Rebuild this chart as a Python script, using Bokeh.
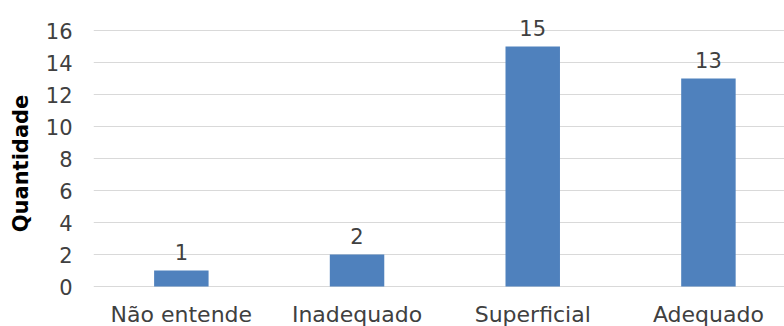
from bokeh.embed import file_html
from bokeh.models import ColumnDataSource, FixedTicker, Range1d
from bokeh.plotting import figure
from bokeh.resources import INLINE
from bokeh.core.properties import value

# Data
categories = ["Não entende", "Inadequado", "Superficial", "Adequado"]
counts = [1, 2, 15, 13]
y_ticks = [0, 2, 4, 6, 8, 10, 12, 14, 16]

FONT = "DejaVu Sans"
TEXT_COLOR = "#404040"
BAR_COLOR = "#4F81BD"

positions = list(range(len(categories)))
source = ColumnDataSource(dict(
    x=positions,
    count=counts,
    label=[str(c) for c in counts],
    name=categories,
    base=[0] * len(categories),
))

# The frame runs to the bottom edge so the category names can sit under
# the zero line inside it; nothing else is drawn below zero.
p = figure(
    width=784,
    height=326,
    output_backend="svg",
    toolbar_location=None,
    x_range=Range1d(-0.5, 3.433),
    y_range=Range1d(-2.5, 17.875),
    min_border_left=93,
    min_border_right=0,
    min_border_top=0,
    min_border_bottom=0,
)
p.outline_line_color = None
p.background_fill_color = "white"
p.border_fill_color = "white"

p.vbar(x="x", top="count", width=0.31, bottom=0, source=source,
       fill_color=BAR_COLOR, line_color=None)

# value labels above the bars
p.text(x="x", y="count", text="label", source=source,
       text_align="center", text_baseline="bottom", y_offset=-11,
       text_font=value(FONT), text_font_size="21px", text_color=TEXT_COLOR)

# category names under the bars
p.text(x="x", y="base", text="name", source=source,
       text_align="center", text_baseline="top", y_offset=15,
       text_font=value(FONT), text_font_size="22px", text_color=TEXT_COLOR)

p.xaxis.visible = False
p.xgrid.grid_line_color = None

# y axis
p.yaxis.ticker = FixedTicker(ticks=y_ticks)
p.yaxis.axis_line_color = None
p.yaxis.major_tick_line_color = None
p.yaxis.minor_tick_line_color = None
p.yaxis.major_label_standoff = 15
p.yaxis.major_label_text_font = FONT
p.yaxis.major_label_text_font_size = "21px"
p.yaxis.major_label_text_color = TEXT_COLOR
p.yaxis.axis_label = "Quantidade"
p.yaxis.axis_label_standoff = 10
p.yaxis.axis_label_text_font = FONT
p.yaxis.axis_label_text_font_style = "bold"
p.yaxis.axis_label_text_font_size = "21px"
p.yaxis.axis_label_text_color = "black"
p.ygrid.ticker = FixedTicker(ticks=y_ticks)
p.ygrid.grid_line_color = "#d9d9d9"
p.ygrid.grid_line_width = 1

open("out.html", "w").write(file_html(p, INLINE))
